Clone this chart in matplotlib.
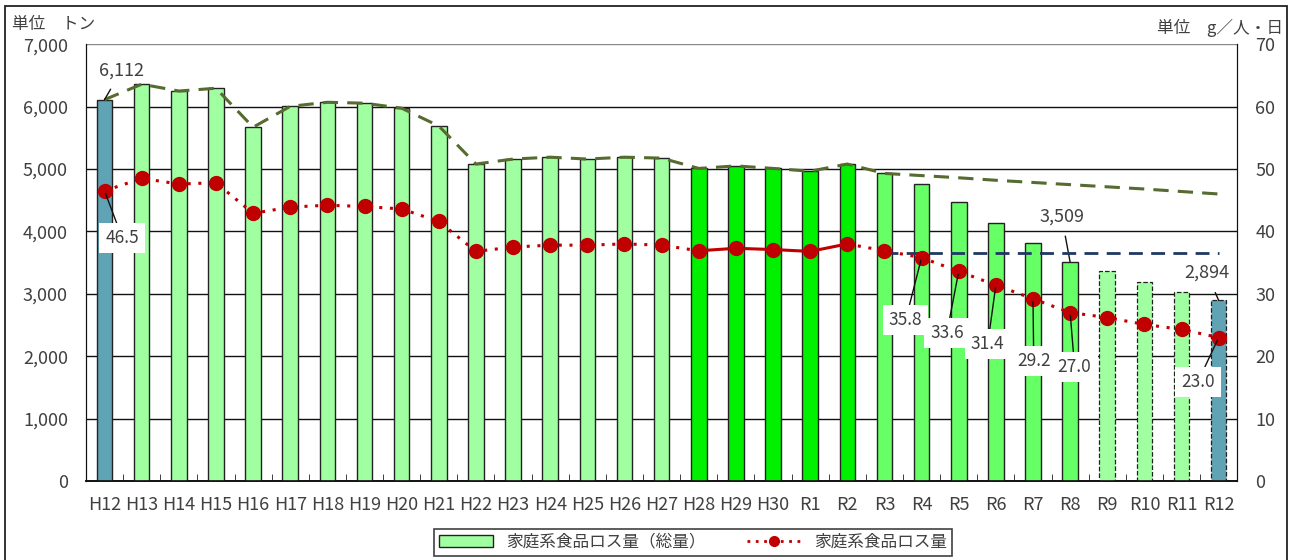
import matplotlib
matplotlib.use("Agg")
import matplotlib.pyplot as plt
from matplotlib.patches import Patch, Rectangle
from matplotlib.lines import Line2D

plt.rcParams['font.family'] = ['Noto Sans CJK JP', 'DejaVu Sans']

# 年度
years = ['H12', 'H13', 'H14', 'H15', 'H16', 'H17', 'H18', 'H19', 'H20', 'H21',
         'H22', 'H23', 'H24', 'H25', 'H26', 'H27', 'H28', 'H29', 'H30',
         'R1', 'R2', 'R3', 'R4', 'R5', 'R6', 'R7', 'R8', 'R9', 'R10', 'R11', 'R12']

# 家庭系食品ロス量（総量） トン
total_t = [6112, 6360, 6250, 6295, 5670, 6005, 6070, 6055, 5975, 5690,
           5080, 5160, 5190, 5160, 5190, 5175, 5010, 5050, 5010,
           4965, 5080, 4930, 4760, 4470, 4140, 3820, 3509, 3360, 3190, 3030, 2894]

# 推計ライン（トン）
trend_t = [6112, 6360, 6250, 6295, 5670, 6005, 6070, 6055, 5975, 5690,
           5080, 5160, 5190, 5160, 5190, 5175, 5010, 5050, 5010,
           4965, 5080, 4930, 4895, 4860, 4820, 4785, 4750, 4715, 4680, 4640, 4600]

# 家庭系食品ロス量 g/人・日
per_capita = [46.5, 48.5, 47.6, 47.8, 42.9, 43.9, 44.2, 44.0, 43.6, 41.6,
              36.8, 37.5, 37.8, 37.8, 38.0, 37.8, 36.9, 37.3, 37.1,
              36.8, 38.0, 36.9, 35.8, 33.6, 31.4, 29.2, 27.0, 26.2, 25.1, 24.3, 23.0]

base_level = 36.6  # R3 水準

teal = '#5FA3B5'
pale = '#A0FFA0'
bright = '#00F000'
mid = '#66FF66'
colors = ([teal] + [pale] * 15 + [bright] * 5 + [mid] * 6 + [pale] * 3 + [teal])
dashed_edge = [False] * 27 + [True] * 4

fig = plt.figure(figsize=(12.95, 5.6), dpi=100)
ax = fig.add_axes([0.0664, 0.141, 0.889, 0.780])
ax2 = ax.twinx()

x = list(range(len(years)))
for i in x:
    ax.bar(i, total_t[i], width=0.42, color=colors[i], edgecolor='#222222',
           linewidth=1.0 if not dashed_edge[i] else 0.9,
           linestyle='--' if dashed_edge[i] else '-', zorder=3)

ax.plot(x, trend_t, color='#556B2F', linestyle=(0, (5, 3)), linewidth=2.2, zorder=4)

ax.set_ylim(0, 7000)
ax.set_xlim(-0.5, len(years) - 0.5)
ax.set_yticks(range(0, 7001, 1000))
ax.set_yticklabels([f'{v:,}' for v in range(0, 7001, 1000)])
for v in range(1000, 7001, 1000):
    ax.axhline(v, color='#111111' if v < 7000 else '#888888', linewidth=1.0, zorder=1)

ax.set_xticks(x)
ax.set_xticklabels(years)
ax.set_xticks([i + 0.5 for i in x[:-1]], minor=True)
ax.tick_params(axis='x', which='major', length=0, pad=11, labelsize=13, colors='#404040')
ax.tick_params(axis='x', which='minor', length=5, direction='in', color='#222222')
ax.tick_params(axis='y', length=0, pad=13, labelsize=13, colors='#404040')

ax2.set_ylim(0, 70)
ax2.set_yticks(range(0, 71, 10))
ax2.tick_params(axis='y', length=0, pad=13, labelsize=13, colors='#404040')

for a in (ax, ax2):
    a.spines['top'].set_visible(False)
    a.spines['left'].set_color('#111111')
    a.spines['right'].set_color('#111111')
    a.spines['bottom'].set_color('#111111')
    a.spines['bottom'].set_linewidth(1.2)

red = '#C00000'
# 点線（H12～H28）、実線（H28～R2）、点線（R2～R12）
ax2.plot(x[:17], per_capita[:17], color=red, linestyle=(0, (1, 2.5)), linewidth=2.2, zorder=5)
ax2.plot(x[16:21], per_capita[16:21], color=red, linestyle='-', linewidth=2.2, zorder=5)
ax2.plot(x[20:], per_capita[20:], color=red, linestyle=(0, (1, 2.5)), linewidth=2.2, zorder=5)
ax2.plot(x, per_capita, linestyle='none', marker='o', markersize=10, color=red, zorder=6)

ax2.plot([21, 30], [base_level, base_level], color='#1F3864', linestyle=(0, (5, 3)),
         linewidth=2.0, zorder=4)

box = dict(boxstyle='square,pad=0.35', facecolor='white', edgecolor='none')
lead = dict(arrowstyle='-', color='#111111', linewidth=1.0, shrinkA=0, shrinkB=2)

# 値ラベル（g/人・日）
pc_labels = {0: (0.48, 38.9), 22: (21.57, 25.8), 23: (22.68, 23.7), 24: (23.78, 21.9),
             25: (25.02, 19.2), 26: (26.12, 18.3), 30: (29.44, 15.9)}
for i, (lx, ly) in pc_labels.items():
    ax2.annotate(f'{per_capita[i]:.1f}', xy=(i, per_capita[i]), xytext=(lx, ly),
                 ha='center', va='center', fontsize=12.5, color='#404040',
                 bbox=box, arrowprops=lead, zorder=8)

# 値ラベル（トン）
t_labels = {0: (0.46, 6584), 26: (25.77, 4245), 30: (29.68, 3332)}
for i, (lx, ly) in t_labels.items():
    ax.annotate(f'{total_t[i]:,}', xy=(i, total_t[i]), xytext=(lx, ly),
                ha='center', va='center', fontsize=13, color='#404040',
                arrowprops=dict(arrowstyle='-', color='#111111', linewidth=1.0,
                                shrinkA=6, shrinkB=0), zorder=8)

fig.text(0.009, 0.957, '単位　トン', fontsize=12, color='#404040', va='center')
fig.text(0.991, 0.950, '単位　g／人・日', fontsize=12, color='#404040', va='center', ha='right')

handles = [Patch(facecolor=pale, edgecolor='#222222', linewidth=1.0),
           Line2D([], [], color=red, linestyle=(0, (1, 2)), linewidth=2, marker='o',
                  markersize=7)]
leg = fig.legend(handles, ['家庭系食品ロス量（総量）', '家庭系食品ロス量'],
                 loc='center', bbox_to_anchor=(0.5353, 0.032), ncol=2,
                 fontsize=12, frameon=True, fancybox=False, edgecolor='#111111',
                 handlelength=3.2, handleheight=0.7, columnspacing=2.5,
                 borderpad=0.3)
leg.get_frame().set_linewidth(1.2)
for t in leg.get_texts():
    t.set_color('#404040')

fig.patches.append(Rectangle((0.004, -0.01), 0.990, 0.999, transform=fig.transFigure,
                             fill=False, edgecolor='#222222', linewidth=1.3))

fig.savefig('out.png', dpi=100)
